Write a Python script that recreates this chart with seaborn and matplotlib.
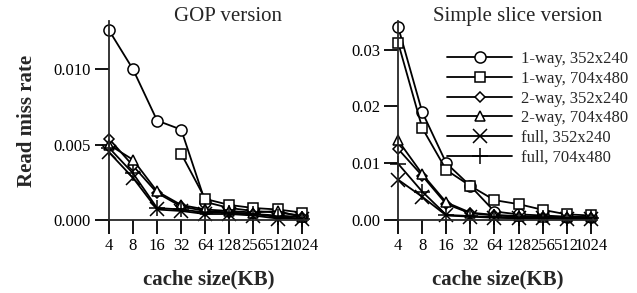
import matplotlib
matplotlib.use('Agg')

import numpy as np
import seaborn as sns
import matplotlib.pyplot as plt

sns.set_theme(style="ticks")
plt.rcParams['font.family'] = ['Liberation Serif', 'DejaVu Serif']

cache_sizes = ['4', '8', '16', '32', '64', '128', '256', '512', '1024']
labels = ['1-way, 352x240', '1-way, 704x480', '2-way, 352x240',
          '2-way, 704x480', 'full, 352x240', 'full, 704x480']
markers = ['o', 's', 'D', '^', 'x', '+']
msizes = [8, 7.5, 5.5, 7.5, 9.5, 11]

nan = np.nan
# GOP version
gop = [
    [0.0126, 0.0100, 0.0066, 0.0060, 0.0012, 0.0008, 0.0006, 0.0005, 0.0003],
    [nan, nan, nan, 0.0044, 0.0014, 0.0010, 0.0008, 0.0007, 0.0005],
    [0.0054, 0.0036, 0.0018, 0.0009, 0.0006, 0.0005, 0.0004, 0.0003, 0.0002],
    [0.0050, 0.0040, 0.0019, 0.0010, 0.0007, 0.0006, 0.0005, 0.0006, 0.0002],
    [0.0045, 0.0028, 0.0007, 0.0006, 0.0004, 0.0004, 0.0003, 0.0001, 0.0001],
    [0.0048, 0.0031, 0.0008, 0.0007, 0.0005, 0.0005, 0.0004, 0.0002, 0.0001],
]
# Simple slice version
slice_v = [
    [0.0340, 0.0190, 0.0100, 0.0060, 0.0015, 0.0010, 0.0008, 0.0006, 0.0005],
    [0.0312, 0.0162, 0.0088, 0.0060, 0.0035, 0.0028, 0.0018, 0.0010, 0.0008],
    [0.0125, 0.0078, 0.0028, 0.0012, 0.0008, 0.0006, 0.0005, 0.0004, 0.0004],
    [0.0140, 0.0081, 0.0031, 0.0013, 0.0009, 0.0007, 0.0006, 0.0005, 0.0005],
    [0.0071, 0.0041, 0.0008, 0.0006, 0.0004, 0.0003, 0.0003, 0.0002, 0.0002],
    [0.0099, 0.0050, 0.0009, 0.0007, 0.0005, 0.0004, 0.0004, 0.0003, 0.0003],
]

fig = plt.figure(figsize=(6.37, 2.93), dpi=100)
ax1 = fig.add_axes([0.171, 0.249, 0.312, 0.679])
ax2 = fig.add_axes([0.625, 0.249, 0.312, 0.679])

xs = np.arange(len(cache_sizes))


def draw(ax, data, title):
    for vals, lab, mk, ms in zip(data, labels, markers, msizes):
        sns.lineplot(x=xs, y=vals, ax=ax, color='black', marker=mk,
                     markersize=ms, markerfacecolor='white',
                     markeredgecolor='black', markeredgewidth=1.1,
                     linewidth=1.3, label=lab, clip_on=False, legend=False)
    ax.set_xticks(xs)
    ax.set_xticklabels(cache_sizes)
    ax.set_xlim(0, 8.25)
    sns.despine(ax=ax)
    ax.spines['left'].set_linewidth(1.3)
    ax.spines['bottom'].set_linewidth(1.3)
    ax.tick_params(axis='both', direction='out', length=10, width=1.3,
                   labelsize=12, colors='black', pad=3)
    ax.set_xlabel('cache size(KB)', fontsize=15, fontweight='bold', labelpad=11)
    ax.text(0.6, 1.0, title, transform=ax.transAxes, ha='center',
            va='baseline', fontsize=15)


draw(ax1, gop, 'GOP version')
ax1.set_ylim(0, 0.0132)
ax1.set_yticks([0.0, 0.005, 0.010])
ax1.set_yticklabels(['0.000', '0.005', '0.010'])
ax1.set_ylabel('Read miss rate', fontsize=15, fontweight='bold', labelpad=12)

draw(ax2, slice_v, 'Simple slice version')
ax2.set_ylim(0, 0.035)
ax2.set_yticks([0.0, 0.01, 0.02, 0.03])
ax2.set_yticklabels(['0.00', '0.01', '0.02', '0.03'])

handles, labs = ax2.get_legend_handles_labels()
fig.legend(handles, labs, loc='upper left', bbox_to_anchor=(0.702, 0.825),
           frameon=False, fontsize=12, handlelength=3.9, handletextpad=0.5,
           labelspacing=0.22, borderpad=0, borderaxespad=0)

fig.savefig('out.png', dpi=100)
